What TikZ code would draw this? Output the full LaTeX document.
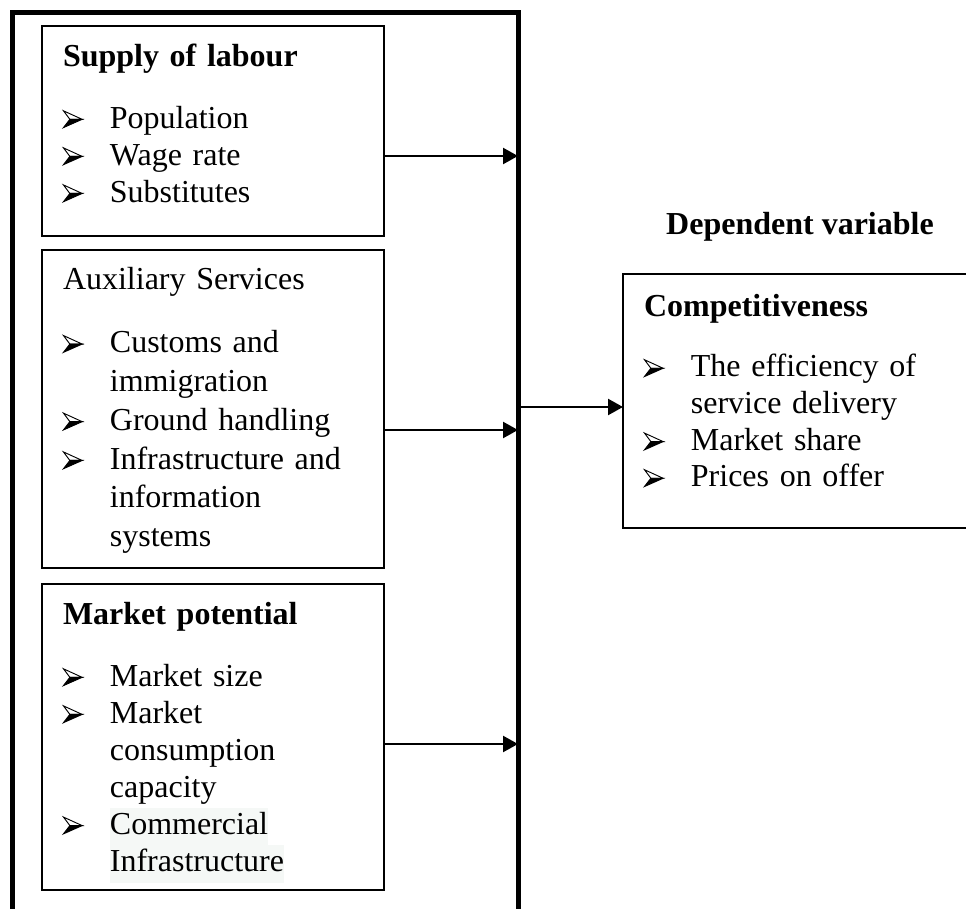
\documentclass[tikz,border=0pt]{standalone}
\usepackage{fontspec}
\setmainfont{Liberation Serif}
\usetikzlibrary{arrows.meta}

\definecolor{marca}{HTML}{F5F8F6}
% vineta (punta de flecha en relieve)
\newsavebox\vinbox
\sbox\vinbox{\begin{tikzpicture}[line width=0.35pt, line join=miter]
        \filldraw[fill=white] (0,6.3pt) -- (7pt,3.1pt) -- (2.4pt,3.1pt) -- cycle;
        \filldraw[fill=black] (0,0) -- (7pt,3.1pt) -- (2.4pt,3.1pt) -- cycle;
    \end{tikzpicture}}
\newcommand{\vin}{\makebox[17.6pt][l]{\raisebox{0pt}{\usebox\vinbox}}}
\newcommand{\sig}{\hspace*{17.6pt}}
\newcommand{\resalte}[1]{{\setlength{\fboxsep}{0pt}\colorbox{marca}{\strut #1}}}

\tikzset{
    caja/.style={draw, line width=0.5pt, anchor=north west, align=left,
        inner xsep=7.875pt, inner ysep=0pt, outer sep=0pt,
        font=\fontsize{12}{13.9}\selectfont},
    marco/.style={draw, line width=1.875pt, anchor=north west,
        inner sep=0pt, outer sep=0pt},
    flecha/.style={line width=0.8pt, -{Triangle[length=5.6pt,width=6pt]}}
}

\begin{document}
\begin{tikzpicture}[x=0.375pt, y=-0.375pt]
        \useasboundingbox (0,0) rectangle (966,909);
        \clip (0,0) rectangle (966,909);

        % Marco de las variables independientes
        \node[marco, minimum width=189.75pt, minimum height=348pt] (indep) at (12,12.5) {};

        % Caja 1 (Superior)
        \node[caja, text width=112.5pt, text height=15.375pt, text depth=63.375pt] (oferta) at (42,26)
            {\textbf{Supply of labour}\\[9pt]
             \vin Population\\
             \vin Wage rate\\
             \vin Substitutes};
        % Caja 2 (Central)
        \node[caja, font=\fontsize{12}{14.55}\selectfont, text width=112.5pt,
              text height=15pt, text depth=104.25pt] (auxiliar) at (42,250)
            {Auxiliary Services\\[9pt]
             \vin Customs and\\
             \sig immigration\\
             \vin Ground handling\\
             \vin Infrastructure and\\
             \sig information\\
             \sig systems};
        % Caja 3 (Inferior)
        \node[caja, text width=112.5pt, text height=15.375pt, text depth=99.375pt] (mercado) at (42,584)
            {\textbf{Market potential}\\[9pt]
             \vin Market size\\
             \vin Market\\
             \sig consumption\\
             \sig capacity\\
             \vin \resalte{Commercial}\\
             \sig \resalte{Infrastructure}};

        % Variable dependiente
        \node[font=\bfseries\fontsize{12}{14}\selectfont, anchor=base] (dep) at (800,235) {Dependent variable};
        \node[caja, font=\fontsize{12}{13.75}\selectfont, text width=121.875pt,
              text height=16.125pt, text depth=79.125pt] (compet) at (623,274)
            {\textbf{Competitiveness}\\[8.75pt]
             \vin The efficiency of\\
             \sig service delivery\\
             \vin Market share\\
             \vin Prices on offer};

        % Flechas
        \coordinate (s1) at ([yshift=-9.375pt]oferta.east);
        \coordinate (s2) at ([yshift=-7.875pt]auxiliar.east);
        \coordinate (s3) at ([yshift=-2.625pt]mercado.east);
        \coordinate (s4) at ([yshift=-2.25pt]compet.west);
        \draw[flecha] (s1) -- (s1 -| indep.east);
        \draw[flecha] (s2) -- (s2 -| indep.east);
        \draw[flecha] (s3) -- (s3 -| indep.east);
        \draw[flecha] (s4 -| indep.east) -- (s4);
    \end{tikzpicture}
\end{document}
